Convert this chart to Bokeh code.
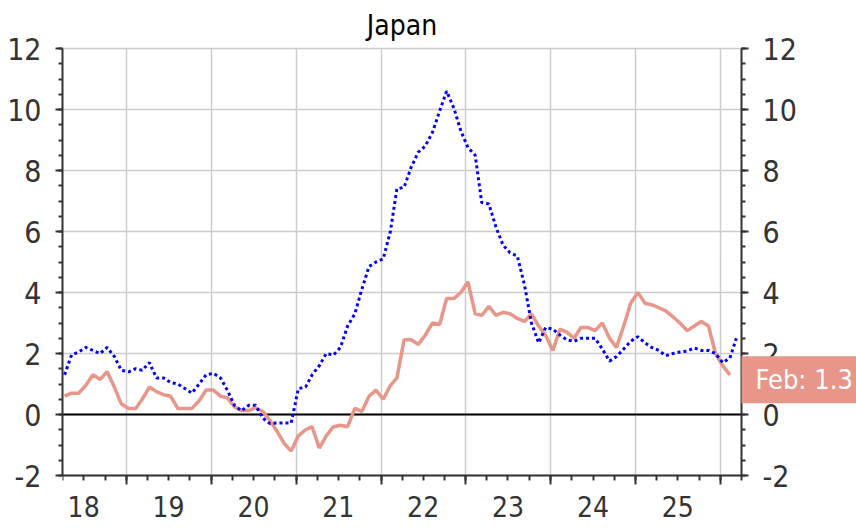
import pandas as pd
from bokeh.plotting import figure
from bokeh.models import (Range1d, LinearAxis, FixedTicker, Grid, Label)
from bokeh.embed import file_html
from bokeh.resources import INLINE

# ---------------- data ----------------
title = "Japan"
start_month = "2018-04"          # first monthly observation
# pink solid series (monthly, Apr 2018 .. Feb 2026)
cpi = [0.6, 0.7, 0.7, 0.95, 1.3, 1.15, 1.4, 0.9, 0.35, 0.2, 0.2, 0.5,
       0.9, 0.75, 0.65, 0.6, 0.2, 0.2, 0.2, 0.45, 0.8, 0.8, 0.6, 0.55,
       0.25, 0.13, 0.13, 0.22, 0.1, -0.2, -0.55, -0.95, -1.2, -0.7, -0.5, -0.4,
       -1.1, -0.7, -0.4, -0.35, -0.4, 0.2, 0.1, 0.6, 0.8, 0.5, 0.95, 1.2,
       2.45, 2.45, 2.3, 2.6, 3.0, 2.95, 3.8, 3.8, 4.0, 4.35, 3.3, 3.25,
       3.55, 3.25, 3.35, 3.3, 3.15, 3.05, 3.3, 2.9, 2.6, 2.1, 2.8, 2.7,
       2.5, 2.85, 2.85, 2.75, 3.0, 2.5, 2.2, 2.9, 3.65, 4.0, 3.65, 3.6,
       3.5, 3.4, 3.2, 3.0, 2.75, 2.9, 3.05, 2.9, 2.0, 1.6, 1.3]
# blue dotted series (monthly, Apr 2018 .. Mar 2026)
ppi = [1.3, 1.95, 2.05, 2.2, 2.1, 2.0, 2.2, 1.9, 1.45, 1.4, 1.5, 1.45,
       1.7, 1.2, 1.2, 1.05, 1.0, 0.85, 0.7, 1.0, 1.3, 1.35, 1.2, 0.8,
       0.3, 0.12, 0.3, 0.3, -0.12, -0.3, -0.28, -0.28, -0.28, 0.85, 0.9, 1.3,
       1.6, 2.0, 1.95, 2.2, 2.9, 3.3, 4.1, 4.85, 5.0, 5.1, 6.0, 7.4,
       7.45, 8.1, 8.6, 8.8, 9.25, 9.95, 10.6, 10.05, 9.3, 8.75, 8.5, 6.95,
       6.9, 6.15, 5.55, 5.3, 5.2, 4.25, 3.0, 2.35, 2.85, 2.8, 2.6, 2.45,
       2.4, 2.5, 2.5, 2.5, 2.15, 1.75, 1.9, 2.15, 2.4, 2.55, 2.35, 2.2,
       2.1, 1.93, 2.0, 2.05, 2.08, 2.18, 2.1, 2.1, 2.0, 1.7, 1.85, 2.5]
years = list(range(2018, 2026))
year_labels = ["18", "19", "20", "21", "22", "23", "24", "25"]
y_ticks = [-2, 0, 2, 4, 6, 8, 10, 12]
y_tick_labels = ["-2", "0", "2", "4", "6", "8", "10", "12"]
x_start, x_end = "2018-04-01", "2026-04-01"
y_lo, y_hi = -2, 12

# ---------------- layout / styles ----------------
W, H = 856, 528
LEFT, TOP = 62, 48            # plot-area left / top edge (px)
AREA_W, AREA_H = 679, 427     # visible plot-area size (px)
FONT = "DejaVu Sans Condensed, Liberation Sans, sans-serif"
PINK = "#E8958A"
BLUE = "#0000FF"
AXIS = "#333333"
GRID = "#cccccc"


def ms(ts):
    return pd.Timestamp(ts).value / 1e6


dates_cpi = pd.date_range(start_month, periods=len(cpi), freq="MS") + pd.Timedelta(days=9)
dates_ppi = pd.date_range(start_month, periods=len(ppi), freq="MS") + pd.Timedelta(days=9)

# the frame runs to the canvas' top, right and bottom edges so that the
# outside texts are not clipped; the ranges are stretched to match
x0, x1 = ms(x_start), ms(x_end)
frame_w = W - LEFT
x_far = x0 + (x1 - x0) * frame_w / AREA_W
y_per_px = (y_hi - y_lo) / AREA_H
y_top = y_hi + TOP * y_per_px
y_bot = y_lo - (H - TOP - AREA_H) * y_per_px

p = figure(width=W, height=H, title=None,
           x_range=Range1d(x0, x_far), y_range=Range1d(y_bot, y_top),
           x_axis_type=None, y_axis_type=None,
           output_backend="svg", toolbar_location=None,
           min_border_left=LEFT, min_border_right=0,
           min_border_top=0, min_border_bottom=0,
           outline_line_color=None, background_fill_color="white")

year_starts = [ms(f"{y + 1}-01-01") for y in years]
quarters = [ms(d) for d in pd.date_range(x_start, x_end, freq="QS")]
mid_years = [ms(f"{y}-07-01") for y in years]

y_minor = [v / 2 for v in range(2 * y_lo, 2 * y_hi + 1)]
ylab = {float(t): s for t, s in zip(y_ticks, y_tick_labels)}


def style_ticks(ax, major_out, minor_out):
    ax.axis_line_color = AXIS
    ax.axis_line_width = 2
    ax.major_tick_line_color = AXIS
    ax.major_tick_line_width = 2
    ax.minor_tick_line_color = AXIS
    ax.minor_tick_line_width = 2
    ax.major_tick_out = major_out
    ax.major_tick_in = 0
    ax.minor_tick_out = minor_out
    ax.minor_tick_in = 0


for side in ("left", "right"):
    ax = LinearAxis(ticker=FixedTicker(ticks=y_ticks, minor_ticks=y_minor),
                    bounds=(y_lo, y_hi))
    style_ticks(ax, 7, 4)
    ax.major_label_text_font = FONT
    ax.major_label_text_font_size = "30px"
    ax.major_label_text_color = AXIS
    ax.major_label_standoff = 14
    ax.major_label_overrides = ylab
    if side == "right":
        ax.fixed_location = x1
    p.add_layout(ax, side)

# bottom axis: tick marks only (year starts long, quarters short)
xb = LinearAxis(ticker=FixedTicker(ticks=year_starts, minor_ticks=quarters),
                bounds=(x0, x1), fixed_location=y_lo)
style_ticks(xb, 9, 5)
xb.major_label_text_font_size = "0px"
xb.major_label_standoff = 0
xb.major_label_overrides = {t: "" for t in year_starts}
p.add_layout(xb, "below")

# second bottom axis: year labels centred in each year, no marks
xl = LinearAxis(ticker=FixedTicker(ticks=mid_years, minor_ticks=[]),
                bounds=(x0, x1), fixed_location=y_lo)
xl.axis_line_color = None
xl.major_tick_line_color = None
xl.minor_tick_line_color = None
xl.major_tick_out = 0
xl.major_tick_in = 0
xl.major_label_text_font = FONT
xl.major_label_text_font_size = "28px"
xl.major_label_text_color = AXIS
xl.major_label_standoff = 20
xl.major_label_overrides = {t: s for t, s in zip(mid_years, year_labels)}
p.add_layout(xl, "below")

p.add_layout(Grid(dimension=0, ticker=FixedTicker(ticks=year_starts),
                  cross_bounds=(y_lo, y_hi),
                  grid_line_color=GRID, grid_line_width=1.5))
p.add_layout(Grid(dimension=1, ticker=FixedTicker(ticks=y_ticks),
                  cross_bounds=(x0, x1),
                  grid_line_color=GRID, grid_line_width=1.5))
# zero line
p.add_layout(Grid(dimension=1, ticker=FixedTicker(ticks=[0]),
                  cross_bounds=(x0, x1),
                  grid_line_color="black", grid_line_width=2))

p.line(dates_cpi, cpi, line_color=PINK, line_width=3.5)
p.line(dates_ppi, ppi, line_color=BLUE, line_width=3, line_dash="3 3")

# chart title, centred over the plot area
p.add_layout(Label(x=(x0 + x1) / 2, y=y_hi, text=title,
                   text_align="center", text_baseline="alphabetic",
                   y_offset=23, text_font=FONT, text_font_size="28px",
                   text_color="black"))

last = dates_cpi[-1]
p.add_layout(Label(x=x1, y=cpi[-1], text=f"{last.strftime('%b')}: {cpi[-1]}",
                   text_align="left", text_baseline="middle",
                   x_offset=0, y_offset=-5,
                   text_font=FONT, text_font_size="27px", text_color="white",
                   background_fill_color=PINK, background_fill_alpha=1.0,
                   padding=dict(left=14, right=12, top=8, bottom=8)))

open("out.html", "w").write(file_html(p, INLINE))
